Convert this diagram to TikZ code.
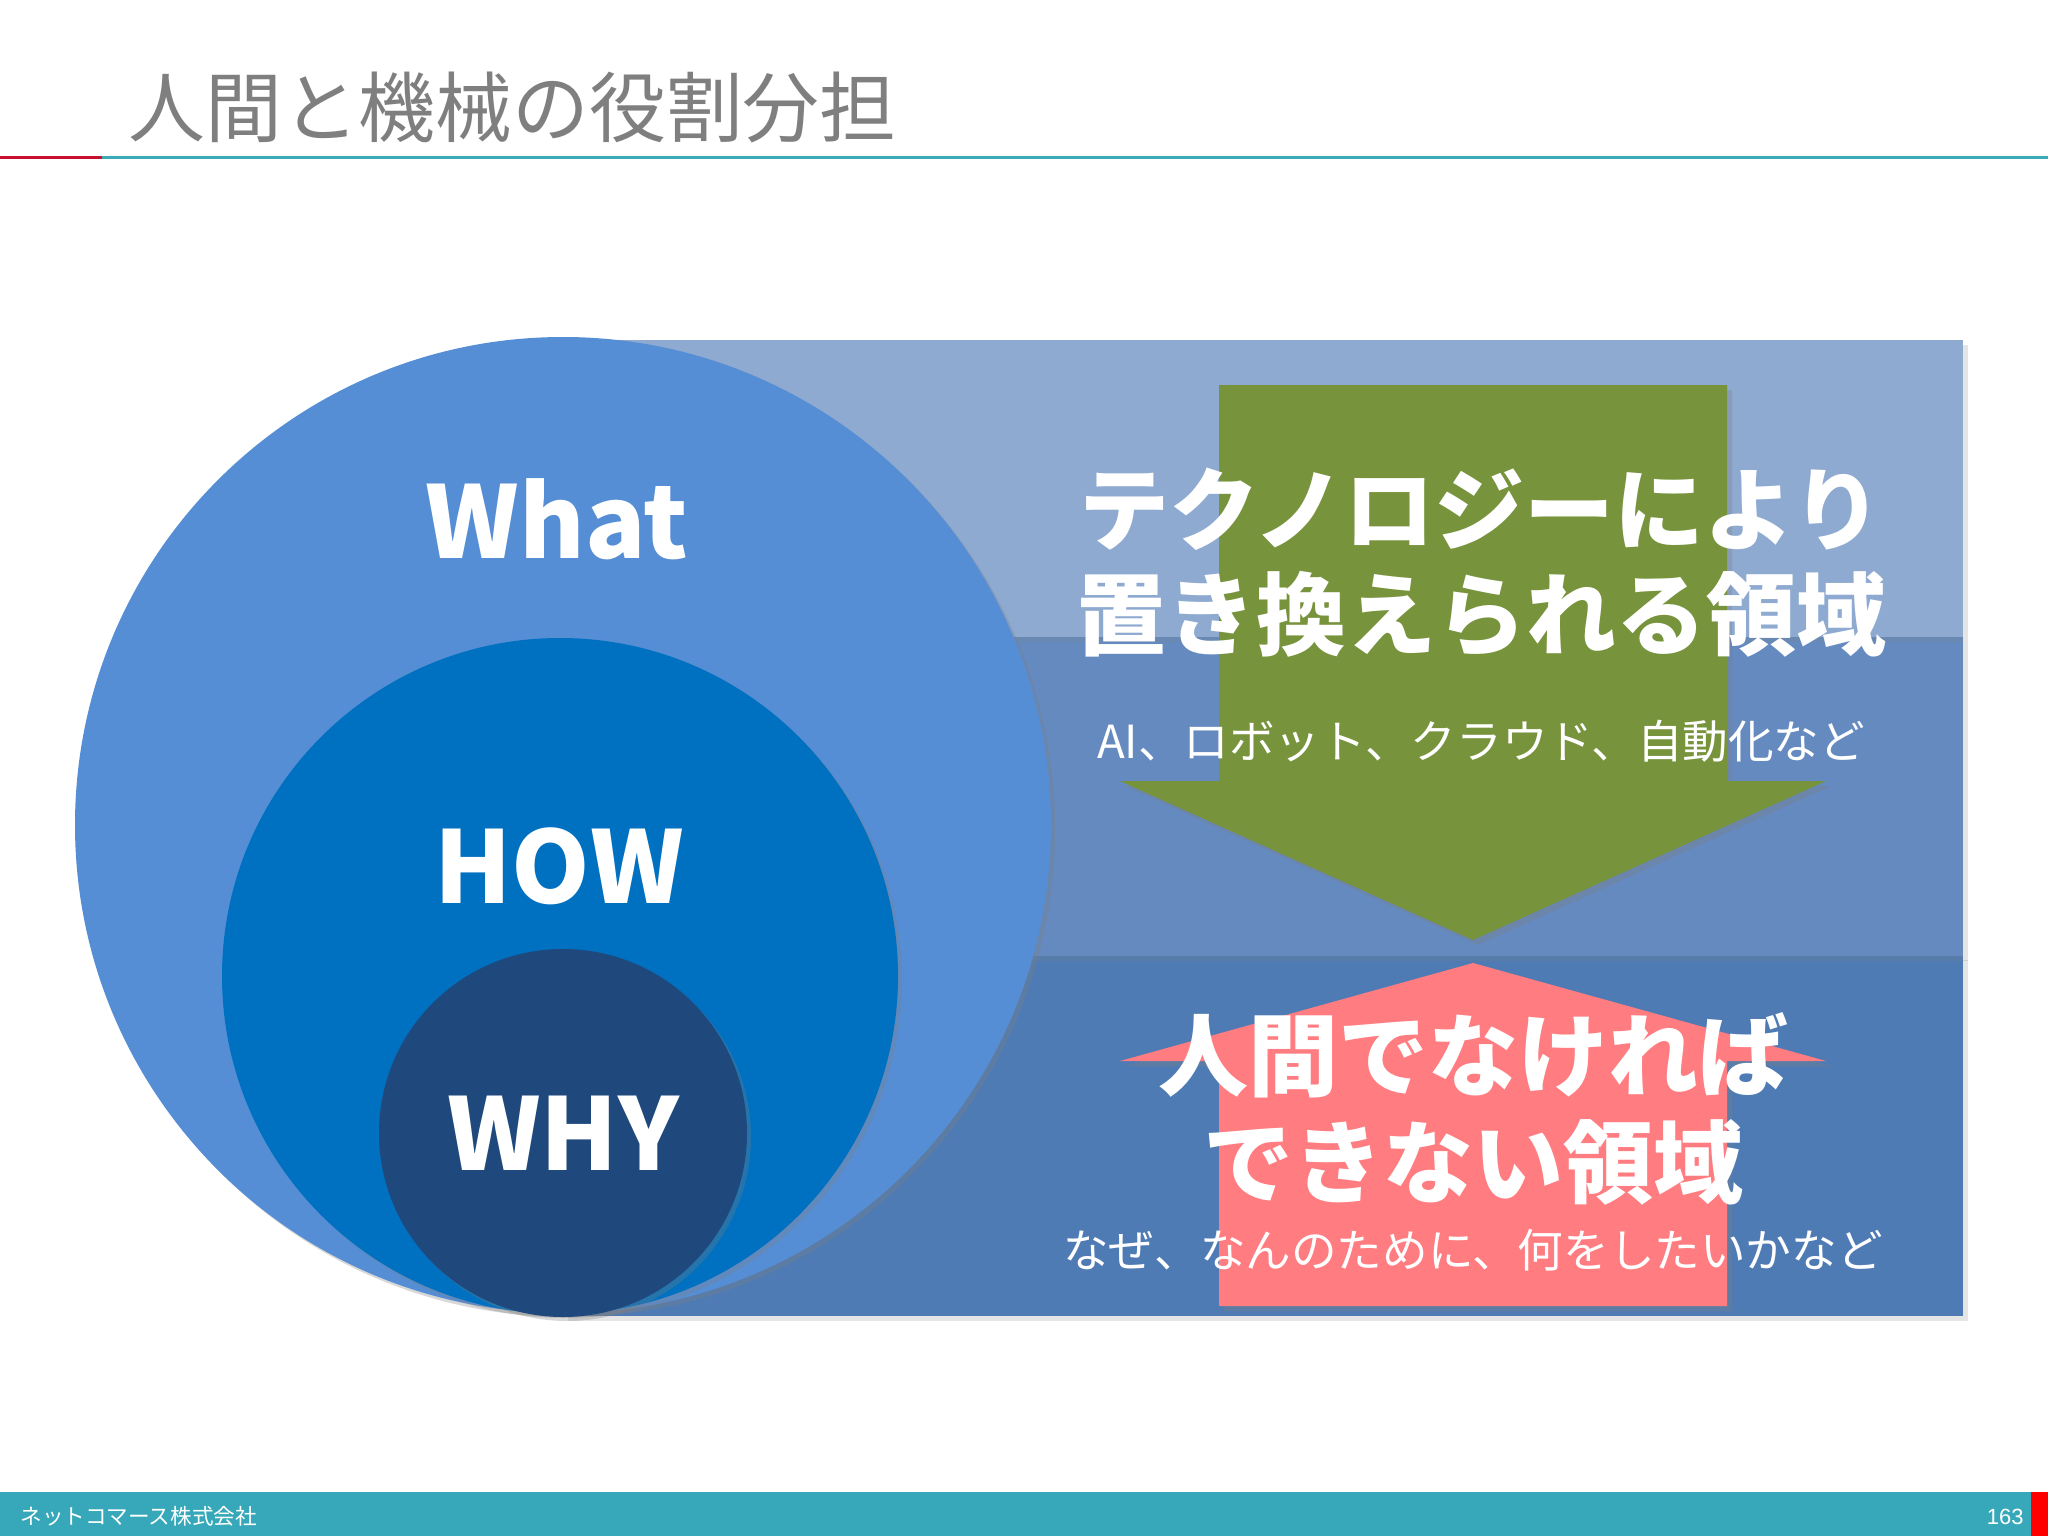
\documentclass[tikz,border=0pt]{standalone}
\usepackage{fontspec}
\setmainfont{Noto Sans CJK JP}
\newfontfamily\numfont{Liberation Sans}
\usepackage{tikz}
\usetikzlibrary{shadows, positioning}

\definecolor{titlegray}{HTML}{7F7F7F}
\definecolor{rulered}{HTML}{C8102E}
\definecolor{ruleteal}{HTML}{3AABB9}
\definecolor{footteal}{HTML}{36A8B9}
\definecolor{bandtop}{HTML}{8FAAD1}
\definecolor{bandmid}{HTML}{648ABF}
\definecolor{bandbot}{HTML}{4F7BB5}
\definecolor{whatblue}{HTML}{558ED5}
\definecolor{howblue}{HTML}{0070C0}
\definecolor{whyblue}{HTML}{1F497D}
\definecolor{techgreen}{HTML}{77933C}
\definecolor{humanpink}{HTML}{FF7C80}

\tikzstyle{ring} = [circle, inner sep=0pt, drop shadow={opacity=0.3, shadow xshift=2pt, shadow yshift=-2pt}]
\tikzstyle{big word} = [text=white, inner sep=0pt, font=\bfseries\fontsize{50}{50}\selectfont]
\tikzstyle{area text} = [text=white, inner sep=0pt, font=\bfseries\fontsize{45}{45}\selectfont]
\tikzstyle{note text} = [text=white, inner sep=0pt, font=\fontsize{22.8}{23}\selectfont]
\tikzstyle{block arrow} = [drop shadow={opacity=0.3, shadow xshift=2.5pt, shadow yshift=-2.5pt}]
\tikzstyle{band} = [drop shadow={opacity=0.2, shadow xshift=2.5pt, shadow yshift=-2.5pt}]

\begin{document}
\begin{tikzpicture}[x=0.5pt, y=-0.5pt]
\useasboundingbox (0,0) rectangle (2048,1536);
\fill[white] (0,0) rectangle (2048,1536);

% title and rule
\node (title) [anchor=west, inner sep=0pt, text=titlegray, font=\fontsize{38.4}{40}\selectfont] at (128,108) {人間と機械の役割分担};
\draw[rulered, line width=1.5pt] (0,157) -- (102,157);
\draw[ruleteal, line width=1.5pt] (102,157) -- (2048,157);

% panel with three bands
\fill[bandbot, band] (563,955) rectangle (1963,1316);
\fill[bandmid, band] (563,637) rectangle (1963,956);
\fill[bandtop, band] (563,340) rectangle (1963,637);

% circles
\node (what circle) [ring, fill=whatblue, minimum size=488pt] at (563,825) {};
\node (how circle) [ring, fill=howblue, minimum size=338pt] at (560,976) {};
\node (why circle) [ring, fill=whyblue, minimum size=184pt] at (563,1133) {};

\node (what) [big word] at (557,519) {What};
\node (how) [big word] at (559,866) {HOW};
\node (why) [big word] at (why circle) {WHY};

% arrows
\fill[techgreen, block arrow] (1219,385) -- (1727,385) -- (1727,781) -- (1826,781) -- (1473,940) -- (1120,781) -- (1219,781) -- cycle;
\fill[humanpink, block arrow] (1473,963) -- (1826,1061) -- (1727,1061) -- (1727,1306) -- (1219,1306) -- (1219,1061) -- (1120,1061) -- cycle;

% texts
\node (tech line1) [area text] at (1481,509) {テクノロジーにより};
\node (tech line2) [area text, below of=tech line1, node distance=52.5pt] {置き換えられる領域};
\node (tech note) [note text, below of=tech line2, node distance=63.5pt] {AI、ロボット、クラウド、自動化など};

\node (human line1) [area text] at (1473,1055) {人間でなければ};
\node (human line2) [area text, below of=human line1, node distance=53.5pt] {できない領域};
\node (human note) [note text, below of=human line2, node distance=44pt] {なぜ、なんのために、何をしたいかなど};

% footer
\fill[footteal] (0,1492) rectangle (2048,1536);
\fill[red] (2031,1492) rectangle (2048,1536);
\node (company) [anchor=west, inner sep=0pt, text=white, font=\fontsize{10.8}{11}\selectfont] at (20,1516) {ネットコマース株式会社};
\node (page) [anchor=east, inner sep=0pt, text=white, font=\numfont\fontsize{11}{11}\selectfont] at (2024,1517) {163};
\end{tikzpicture}
\end{document}
